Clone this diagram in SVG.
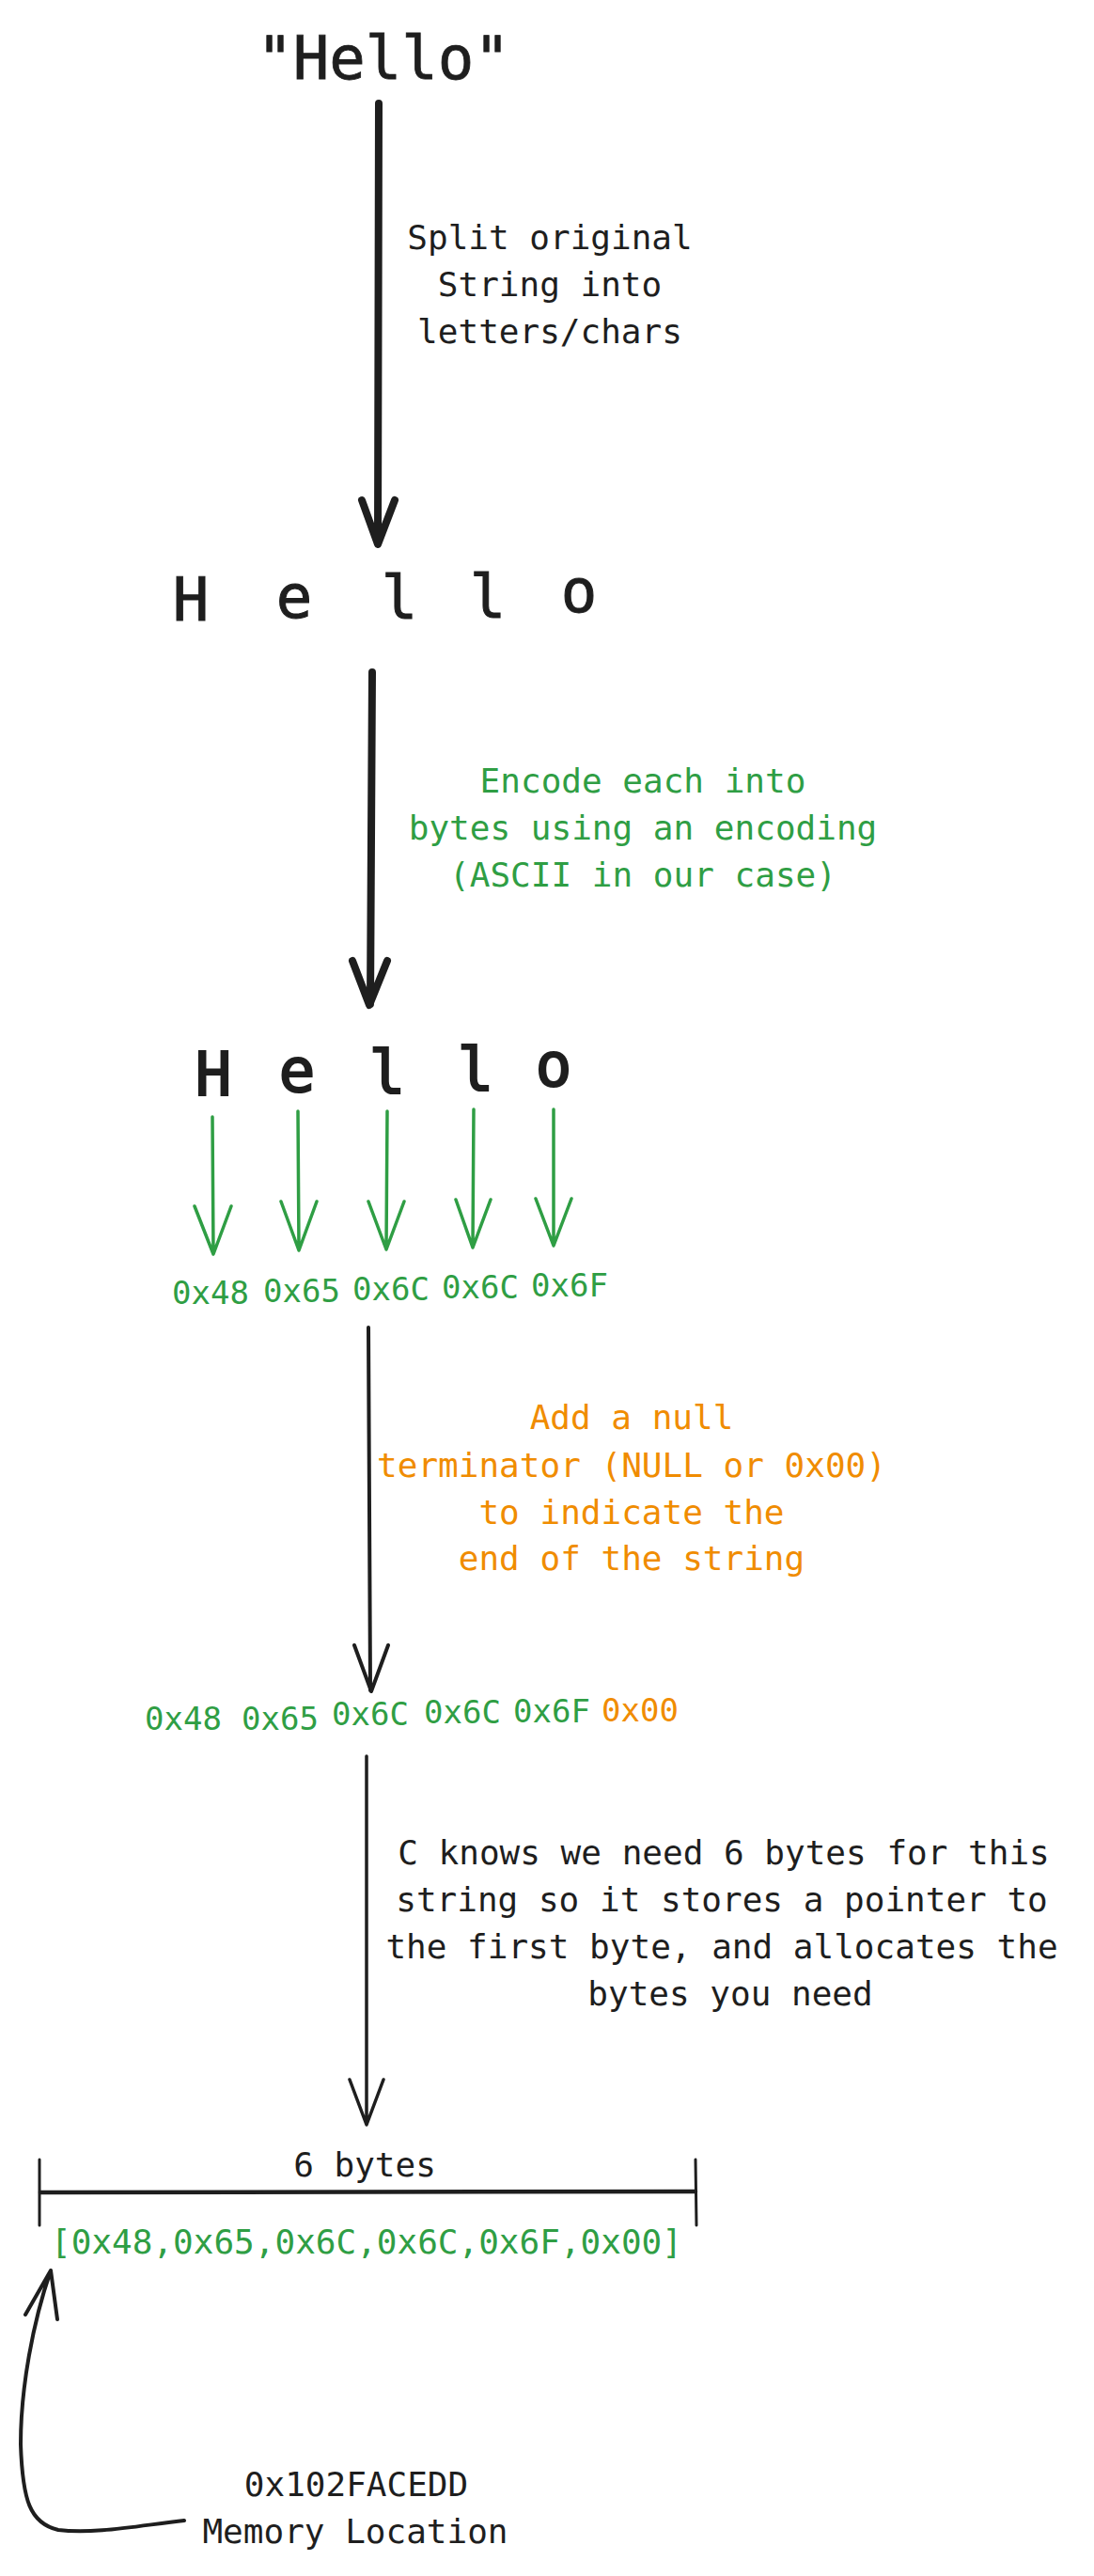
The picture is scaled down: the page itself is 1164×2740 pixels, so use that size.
<svg xmlns="http://www.w3.org/2000/svg" width="1164" height="2740" viewBox="0 0 1164 2740">
<style>
text{font-family:"DejaVu Sans Mono","Liberation Mono",monospace;}
.k{fill:#1e1e1e;}
.g{fill:#2f9e44;}
.o{fill:#f08c00;}
.lbl{font-size:36px;text-anchor:middle;}
.hex{font-size:34px;text-anchor:middle;}
.big{font-size:64px;text-anchor:middle;stroke:#1e1e1e;}
.ln{fill:none;stroke:#1e1e1e;stroke-linecap:round;stroke-linejoin:round;}
.gl{fill:none;stroke:#2f9e44;stroke-width:3.5;stroke-linecap:round;stroke-linejoin:round;}
</style>
<rect width="1164" height="2740" fill="#ffffff"/>
<g id="title"><text class="k" x="408" y="84" font-size="64" text-anchor="middle" stroke="#1e1e1e" stroke-width="0.8">"Hello"</text></g>
<g id="label-split">
<text class="k lbl" x="585" y="265">Split original</text>
<text class="k lbl" x="585" y="315">String into</text>
<text class="k lbl" x="585" y="365">letters/chars</text>
</g>
<g id="row-letters" stroke-width="1">
<text class="k big" x="203" y="660">H</text>
<text class="k big" x="313" y="657">e</text>
<text class="k big" x="425" y="658">l</text>
<text class="k big" x="519" y="657">l</text>
<text class="k big" x="616" y="651">o</text>
</g>
<g id="row-letters-2" stroke-width="2.2">
<text class="k big" x="227" y="1165">H</text>
<text class="k big" x="316" y="1161">e</text>
<text class="k big" x="412" y="1163">l</text>
<text class="k big" x="506" y="1160">l</text>
<text class="k big" x="589" y="1155">o</text>
</g>
<g id="label-encode">
<text class="g lbl" x="684" y="843">Encode each into</text>
<text class="g lbl" x="684" y="893">bytes using an encoding</text>
<text class="g lbl" x="684" y="943">(ASCII in our case)</text>
</g>
<g id="hex-row-1">
<text class="g hex" x="224" y="1387">0x48</text>
<text class="g hex" x="321" y="1385">0x65</text>
<text class="g hex" x="416" y="1383">0x6C</text>
<text class="g hex" x="511" y="1381">0x6C</text>
<text class="g hex" x="606" y="1379">0x6F</text>
</g>
<g id="label-null">
<text class="o lbl" x="672" y="1520">Add a null</text>
<text class="o lbl" x="672" y="1571">terminator (NULL or 0x00)</text>
<text class="o lbl" x="672" y="1621">to indicate the</text>
<text class="o lbl" x="672" y="1670">end of the string</text>
</g>
<g id="hex-row-2">
<text class="g hex" x="195" y="1840">0x48</text>
<text class="g hex" x="298" y="1840">0x65</text>
<text class="g hex" x="394" y="1835">0x6C</text>
<text class="g hex" x="492" y="1833">0x6C</text>
<text class="g hex" x="587" y="1832">0x6F</text>
<text class="o hex" x="681" y="1831">0x00</text>
</g>
<g id="label-alloc">
<text class="k lbl" x="770" y="1983">C knows we need 6 bytes for this</text>
<text class="k lbl" x="768" y="2033">string so it stores a pointer to</text>
<text class="k lbl" x="768" y="2083">the first byte, and allocates the</text>
<text class="k lbl" x="777" y="2133">bytes you need</text>
</g>
<g id="memory-block">
<text class="k lbl" x="388" y="2315">6 bytes</text>
<path class="ln" stroke-width="4.5" d="M43 2332 L740 2331"/>
<path class="ln" stroke-width="3" d="M42 2297 L42 2367 M740 2297 L741 2367"/>
<text class="g lbl" x="390" y="2397">[0x48,0x65,0x6C,0x6C,0x6F,0x00]</text>
</g>
<g id="label-memory">
<text class="k lbl" x="379" y="2655">0x102FACEDD</text>
<text class="k lbl" x="378" y="2705">Memory Location</text>
</g>
<g id="connectors">
<path class="ln" stroke-width="8" d="M403 110 L402 578 M385 532 L402 579 L420 532"/>
<path class="ln" stroke-width="8" d="M396 715 L394 1068 M375 1022 L393 1069 L412 1022"/>
<path class="gl" d="M226 1188 L227 1333 M207 1283 L227 1334 L246 1283"/>
<path class="gl" d="M317 1182 L318 1329 M299 1278 L318 1330 L337 1278"/>
<path class="gl" d="M412 1182 L411 1328 M392 1278 L411 1329 L430 1278"/>
<path class="gl" d="M504 1180 L503 1326 M485 1276 L503 1327 L522 1276"/>
<path class="gl" d="M589 1180 L589 1324 M570 1275 L589 1325 L608 1275"/>
<path class="ln" stroke-width="4" d="M392 1412 L394 1798 M377 1750 L395 1799 L413 1750"/>
<path class="ln" stroke-width="3.5" d="M390 1868 L390 2258 M372 2212 L390 2260 L408 2212"/>
<path class="ln" stroke-width="4" d="M196 2681 C150 2686 100 2696 62 2691 C32 2684 24 2660 22 2600 C22 2540 35 2470 54 2415 M27 2462 L54 2415 L61 2467"/>
</g>
</svg>
